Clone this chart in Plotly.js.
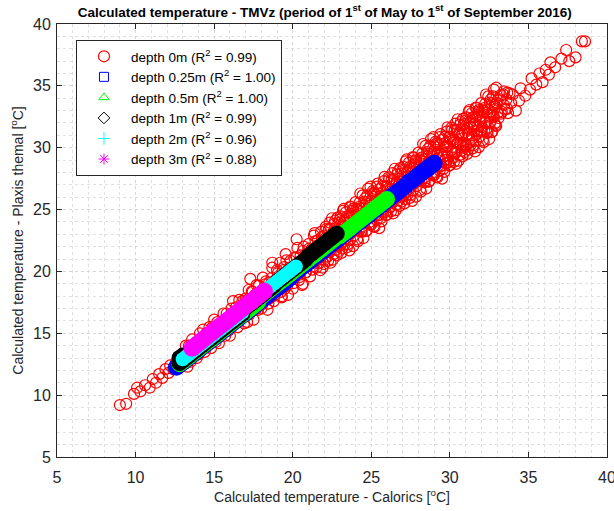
<!DOCTYPE html>
<html>
<head>
<meta charset="utf-8">
<script src="https://cdn.plot.ly/plotly-3.0.1.min.js"></script>
<style>html,body{margin:0;padding:0;background:#fff;}#chart{width:614px;height:511px;}</style>
</head>
<body>
<div id="chart"></div>
<script>
// ---- data ----
const seriesNames = [
  "depth 0m (R<sup>2</sup> = 0.99)",
  "depth 0.25m (R<sup>2</sup> = 1.00)",
  "depth 0.5m (R<sup>2</sup> = 1.00)",
  "depth 1m (R<sup>2</sup> = 0.99)",
  "depth 2m (R<sup>2</sup> = 0.96)",
  "depth 3m (R<sup>2</sup> = 0.88)"
];

const depth0X = [
  9.0,9.4,9.9,10.1,10.3,10.6,10.9,11.1,11.3,11.5,11.7,11.9,12.1,12.2,12.4,12.6,12.8,13.3,
  13.0,13.1,13.2,13.3,13.4,13.5,13.6,13.7,13.8,13.9,
  14.0,14.1,14.2,14.3,14.4,14.5,14.6,14.7,14.8,14.9,
  15.0,15.1,15.2,15.3,15.4,15.5,15.6,15.7,15.8,15.9,
  16.0,16.1,16.2,16.3,16.4,16.5,16.6,16.7,16.8,16.9,
  17.0,17.1,17.2,17.3,17.4,17.5,17.6,17.7,17.8,17.9,17.3,17.55,
  18.0,18.1,18.2,18.3,18.4,18.5,18.6,18.7,18.8,18.9,18.7,18.45,
  19.0,19.1,19.2,19.3,19.4,19.5,19.6,19.7,19.8,19.9,19.3,19.55,
  20.0,20.1,20.2,20.3,20.4,20.5,20.6,20.7,20.8,20.9,20.25,20.65,
  21.0,21.1,21.2,21.3,21.4,21.5,21.6,21.7,21.8,21.9,21.35,21.75,
  22.0,22.0,22.1,22.1,22.2,22.2,22.3,22.3,22.4,22.4,22.5,22.5,22.6,22.6,22.7,22.7,22.8,22.8,22.9,22.9,
  23.0,23.0,23.1,23.1,23.2,23.2,23.3,23.3,23.4,23.4,23.5,23.5,23.6,23.6,23.7,23.7,23.8,23.8,23.9,23.9,
  24.0,24.0,24.1,24.1,24.2,24.2,24.3,24.3,24.4,24.4,24.5,24.5,24.6,24.6,24.7,24.7,24.8,24.8,24.9,24.9,
  25.0,25.0,25.1,25.1,25.2,25.2,25.3,25.3,25.4,25.4,25.5,25.5,25.6,25.6,25.7,25.7,25.8,25.8,25.9,25.9,
  26.0,26.0,26.1,26.1,26.2,26.2,26.3,26.3,26.4,26.4,26.5,26.5,26.6,26.6,26.7,26.7,26.8,26.8,26.9,26.9,
  27.0,27.0,27.1,27.1,27.2,27.2,27.3,27.3,27.4,27.4,27.5,27.5,27.6,27.6,27.7,27.7,27.8,27.8,27.9,27.9,
  28.0,28.0,28.1,28.1,28.2,28.2,28.3,28.3,28.4,28.4,28.5,28.5,28.6,28.6,28.7,28.7,28.8,28.8,28.9,28.9,
  29.0,29.0,29.1,29.1,29.2,29.2,29.3,29.3,29.4,29.4,29.5,29.5,29.6,29.6,29.7,29.7,29.8,29.8,29.9,29.9,
  30.0,30.0,30.1,30.1,30.2,30.2,30.3,30.3,30.4,30.4,30.5,30.5,30.6,30.6,30.7,30.7,30.8,30.8,30.9,30.9,
  31.0,31.0,31.1,31.1,31.2,31.2,31.3,31.3,31.4,31.4,31.5,31.5,31.6,31.6,31.7,31.7,31.8,31.8,31.9,31.9,
  32.0,32.0,32.1,32.1,32.2,32.2,32.3,32.3,32.4,32.4,32.5,32.5,32.6,32.6,32.7,32.7,32.8,32.8,32.9,32.9,
  33.0,33.1,33.2,33.3,33.4,33.5,33.6,33.7,33.8,33.9,
  34.0,34.2,34.5,34.4,34.8,35.1,35.2,35.5,35.7,35.9,36.1,36.3,36.4,36.7,37.1,37.4,37.6,38.0,38.4,38.6
];
const depth0Y = [
  9.2,9.3,10.1,10.6,10.3,10.8,10.6,11.3,11.0,11.7,11.4,12.1,11.8,12.4,12.1,12.7,12.3,12.3,
  13.3,12.5,14.0,13.0,14.0,12.7,14.5,13.2,14.2,13.0,
  13.3,15.0,13.8,15.3,13.5,15.0,14.0,15.5,13.8,15.5,
  16.1,14.3,15.9,14.2,15.8,15.0,16.6,14.8,16.6,15.2,
  14.8,17.0,17.6,15.8,17.1,15.5,17.7,16.3,17.6,15.8,
  17.8,15.9,18.5,16.9,18.4,16.1,18.1,18.9,16.9,18.2,19.4,17.0,
  17.0,19.5,17.9,19.2,16.9,19.1,17.9,20.3,17.6,19.3,20.7,17.4,
  20.1,18.5,20.7,18.0,20.1,18.6,20.9,18.1,20.3,19.5,17.9,21.4,
  18.6,21.1,19.7,21.9,19.3,21.3,18.9,22.0,19.9,21.4,22.6,19.0,
  22.2,19.6,21.8,20.4,23.1,20.3,22.5,21.1,23.2,20.3,22.9,20.1,
  20.6,22.9,21.8,23.6,21.2,22.6,23.4,21.6,22.5,20.7,24.3,22.3,21.4,23.2,24.1,22.2,23.1,21.3,23.9,22.0,
  24.2,22.2,23.6,21.5,24.9,23.1,22.2,24.1,23.0,24.8,22.2,23.7,24.5,21.7,25.2,23.1,23.8,24.9,22.9,24.5,
  23.4,25.6,22.6,24.4,25.2,23.3,26.3,24.1,23.2,25.1,24.6,22.7,25.9,24.1,25.5,23.3,26.7,24.5,25.3,23.8,
  25.7,23.8,26.5,24.7,23.6,26.3,25.2,26.2,24.5,27.1,23.5,25.8,26.1,24.3,26.9,25.0,25.6,27.3,24.8,26.1,
  24.6,26.9,25.8,27.6,25.2,26.6,27.4,25.6,26.5,24.7,28.3,26.3,25.4,27.2,28.1,26.2,27.1,25.3,27.9,26.0,
  28.2,26.2,27.6,25.5,28.9,27.1,26.2,28.1,27.0,28.8,26.2,27.7,28.5,25.7,29.2,27.1,27.8,28.9,26.9,28.5,
  27.4,29.6,26.6,28.4,29.2,27.3,30.3,28.1,27.2,29.1,28.6,26.7,29.9,28.1,29.5,27.3,30.7,28.5,29.3,27.8,
  29.7,27.8,30.5,28.7,27.6,30.3,29.2,30.2,28.5,31.1,27.5,29.8,30.1,28.3,30.9,29.0,29.6,31.3,28.8,30.1,
  28.6,30.9,29.8,31.6,29.2,30.6,31.4,29.6,30.5,28.7,32.3,30.3,29.4,31.2,32.1,30.2,31.1,29.3,31.9,30.0,
  32.2,30.2,31.6,29.5,32.9,31.1,30.2,32.1,31.0,32.8,30.2,31.7,32.5,29.7,33.2,31.1,31.8,32.9,30.9,32.5,
  31.4,33.6,30.6,32.4,33.2,31.3,34.3,32.1,31.2,33.1,32.6,30.7,33.9,32.1,33.5,31.3,34.7,32.5,33.3,31.8,
  33.6,32.4,33.9,32.9,34.3,33.1,33.9,32.8,34.4,33.6,
  34.3,33.0,34.8,33.8,34.2,34.7,35.6,35.1,36.0,35.3,36.3,35.9,36.9,36.5,37.2,37.9,37.0,37.3,38.6,38.6
];
// further depth-0m readings in the densest part of the cloud
const depth0XMore = [
  17.05,17.25,17.45,17.65,17.85,18.05,18.25,18.45,18.65,18.85,19.05,19.25,19.45,19.65,19.85,
  20.05,20.25,20.45,20.65,20.85,21.05,21.25,21.45,21.65,21.85,
  22.05,22.05,22.15,22.15,22.25,22.25,22.35,22.35,22.45,22.45,22.55,22.55,22.65,22.65,22.75,22.75,22.85,22.85,22.95,22.95,
  23.05,23.05,23.15,23.15,23.25,23.25,23.35,23.35,23.45,23.45,23.55,23.55,23.65,23.65,23.75,23.75,23.85,23.85,23.95,23.95,
  24.05,24.05,24.15,24.15,24.25,24.25,24.35,24.35,24.45,24.45,24.55,24.55,24.65,24.65,24.75,24.75,24.85,24.85,24.95,24.95,
  25.05,25.05,25.15,25.15,25.25,25.25,25.35,25.35,25.45,25.45,25.55,25.55,25.65,25.65,25.75,25.75,25.85,25.85,25.95,25.95,
  26.05,26.05,26.15,26.15,26.25,26.25,26.35,26.35,26.45,26.45,26.55,26.55,26.65,26.65,26.75,26.75,26.85,26.85,26.95,26.95,
  27.05,27.05,27.15,27.15,27.25,27.25,27.35,27.35,27.45,27.45,27.55,27.55,27.65,27.65,27.75,27.75,27.85,27.85,27.95,27.95,
  28.05,28.05,28.15,28.15,28.25,28.25,28.35,28.35,28.45,28.45,28.55,28.55,28.65,28.65,28.75,28.75,28.85,28.85,28.95,28.95,
  29.05,29.05,29.15,29.15,29.25,29.25,29.35,29.35,29.45,29.45,29.55,29.55,29.65,29.65,29.75,29.75,29.85,29.85,29.95,29.95,
  30.05,30.05,30.15,30.15,30.25,30.25,30.35,30.35,30.45,30.45,30.55,30.55,30.65,30.65,30.75,30.75,30.85,30.85,30.95,30.95,
  31.05,31.05,31.15,31.15,31.25,31.25,31.35,31.35,31.45,31.45,31.55,31.55,31.65,31.65,31.75,31.75,31.85,31.85,31.95,31.95,
  32.05,32.05,32.15,32.15,32.25,32.25,32.35,32.35,32.45,32.45,32.55,32.55,32.65,32.65,32.75,32.75,32.85,32.85,32.95,32.95,
  33.05,33.05,33.25,33.25,33.45,33.45,33.65,33.65
];
const depth0YMore = [
  17.65,16.55,18.35,16.95,18.85,17.35,18.95,17.75,19.45,18.05,19.85,18.35,20.35,18.85,20.85,
  19.05,21.15,19.55,21.65,19.95,21.85,20.15,22.45,20.65,22.75,
  22.65,20.95,21.65,23.45,22.45,20.85,23.95,21.55,22.35,23.45,20.95,23.05,23.85,22.35,21.75,22.95,24.35,22.25,21.65,23.25,
  22.15,24.45,23.15,21.85,23.95,25.05,22.65,23.65,21.95,24.45,23.95,23.35,22.55,25.25,23.35,24.65,22.05,25.05,24.05,23.35,
  25.05,23.65,22.45,24.95,24.05,25.55,24.85,23.25,26.15,23.65,24.05,25.65,24.85,23.25,26.15,24.65,23.95,25.45,23.75,26.85,
  24.85,25.85,26.35,23.65,25.65,24.55,24.15,26.85,25.45,24.55,26.65,25.25,24.05,26.35,26.05,24.75,27.65,25.35,26.85,24.55,
  26.65,24.95,25.65,27.45,26.45,24.85,27.95,25.55,26.35,27.45,24.95,27.05,27.85,26.35,25.75,26.95,28.35,26.25,25.65,27.25,
  26.15,28.45,27.15,25.85,27.95,29.05,26.65,27.65,25.95,28.45,27.95,27.35,26.55,29.25,27.35,28.65,26.05,29.05,28.05,27.35,
  29.05,27.65,26.45,28.95,28.05,29.55,28.85,27.25,30.15,27.65,28.05,29.65,28.85,27.25,30.15,28.65,27.95,29.45,27.75,30.85,
  28.85,29.85,30.35,27.65,29.65,28.55,28.15,30.85,29.45,28.55,30.65,29.25,28.05,30.35,30.05,28.75,31.65,29.35,30.85,28.55,
  30.65,28.95,29.65,31.45,30.45,28.85,31.95,29.55,30.35,31.45,28.95,31.05,31.85,30.35,29.75,30.95,32.35,30.25,29.65,31.25,
  30.15,32.45,31.15,29.85,31.95,33.05,30.65,31.65,29.95,32.45,31.95,31.35,30.55,33.25,31.35,32.65,30.05,33.05,32.05,31.35,
  33.05,31.65,30.45,32.95,32.05,33.55,32.85,31.25,34.15,31.65,32.05,33.65,32.85,31.25,34.15,32.65,31.95,33.45,31.75,34.85,
  32.85,33.85,34.25,32.75,33.45,34.55,33.15,34.45
];

const depth025X = [12.6,12.8,13.0,13.2,13.4,13.6,13.8,14.0,14.2,14.4,14.6,14.8,15.0,15.2,15.4,15.6,15.8,16.0,16.2,16.4,16.6,16.8,17.0,17.2,17.4,17.6,17.8,18.0,18.2,18.4,18.6,18.8,19.0,19.2,19.4,19.6,19.8,20.0,20.2,20.4,20.6,20.8,21.0,21.2,21.4,21.6,21.8,22.0,22.2,22.4,22.6,22.8,23.0,23.2,23.4,23.6,23.8,24.0,24.2,24.4,24.6,24.8,25.0,25.2,25.4,25.6,25.8,26.0,26.2,26.4,26.6,26.8,27.0,27.2,27.4,27.6,27.8,28.0,28.2,28.4,28.6,28.8,29.0];
const depth025Y = [12.25,12.45,12.65,12.85,13.05,13.25,13.45,13.65,13.85,14.05,14.25,14.45,14.65,14.85,15.05,15.25,15.45,15.65,15.85,16.05,16.25,16.45,16.65,16.85,17.05,17.25,17.45,17.65,17.85,18.05,18.25,18.45,18.65,18.85,19.05,19.25,19.45,19.75,19.95,20.15,20.35,20.55,20.75,20.95,21.2,21.35,21.55,21.75,21.95,22.15,22.35,22.55,22.75,22.95,23.15,23.35,23.55,23.75,23.95,24.15,24.35,24.5,24.75,24.95,25.15,25.35,25.55,25.75,25.95,26.15,26.35,26.55,26.75,26.95,27.2,27.35,27.55,27.75,27.95,28.15,28.35,28.55,28.75];

const depth05X = [12.8,13.0,13.2,13.4,13.6,13.8,14.0,14.2,14.4,14.6,14.8,15.0,15.2,15.4,15.6,15.8,16.0,16.2,16.4,16.6,16.8,17.0,17.2,17.4,17.6,17.8,18.0,18.2,18.4,18.6,18.8,19.0,19.2,19.4,19.6,19.8,20.0,20.2,20.4,20.6,20.8,21.0,21.2,21.4,21.6,21.8,22.0,22.2,22.4,22.6,22.8,23.0,23.2,23.4,23.6,23.8,24.0,24.2,24.4,24.6,24.8,25.0,25.2,25.4,25.6,25.8,26.0];
const depth05Y = [12.5,12.7,12.9,13.1,13.3,13.5,13.7,13.9,14.1,14.3,14.5,14.7,14.9,15.1,15.3,15.5,15.7,15.9,16.1,16.3,16.5,16.7,16.9,17.1,17.3,17.5,17.95,18.15,18.35,18.55,18.75,18.95,19.15,19.35,19.55,19.75,19.95,20.15,20.35,20.55,20.75,20.95,21.15,21.35,21.55,21.75,21.95,22.15,22.35,22.55,22.75,22.85,23.05,23.25,23.45,23.65,23.85,24.05,24.25,24.45,24.65,24.85,25.05,25.25,25.45,25.65,25.85];

const depth1X = [12.8,13.0,12.8,13.0,13.2,13.4,13.6,13.8,14.0,14.2,14.4,14.6,14.8,15.0,15.2,15.4,15.6,15.8,16.0,16.2,16.4,16.6,16.8,17.0,17.2,17.4,17.6,17.8,18.0,18.2,18.4,18.6,18.8,19.0,19.2,19.4,19.6,19.8,20.0,20.2,20.4,20.6,20.8,21.0,21.2,21.4,21.6,21.8,22.0,22.2,22.4,22.6,22.8];
const depth1Y = [13.0,13.2,12.6,12.8,13.0,13.2,13.4,13.6,13.8,14.0,14.2,14.4,14.6,14.8,15.0,15.2,15.4,15.6,15.8,16.0,16.2,16.4,16.6,17.05,17.25,17.45,17.65,17.85,18.05,18.25,18.45,18.65,18.85,19.15,19.35,19.55,19.75,19.95,20.15,20.35,20.55,20.75,20.95,21.25,21.45,21.65,21.85,22.05,22.25,22.45,22.65,22.85,23.05];

const depth2X = [13.0,13.2,13.4,13.6,13.8,14.0,14.2,14.4,14.6,14.8,15.0,15.2,15.4,15.6,15.8,16.0,16.2,16.4,16.6,16.8,17.0,17.2,17.4,17.6,17.8,18.0,18.2,18.4,18.6,18.8,19.0,19.2,19.4,19.6,19.8,20.0,20.2];
const depth2Y = [12.9,13.1,13.3,13.5,13.7,13.9,14.1,14.3,14.5,14.7,14.9,15.1,15.3,15.5,15.7,15.9,16.1,16.3,16.5,16.7,17.2,17.4,17.6,17.8,18.0,18.2,18.4,18.6,18.8,19.0,19.2,19.4,19.6,19.8,20.0,20.2,20.4];

const depth3X = [13.6,13.8,14.0,14.2,14.4,14.6,14.8,15.0,15.2,15.4,15.6,15.8,16.0,16.2,16.4,16.6,16.8,17.0,17.2,17.4,17.6,17.8,18.0,18.2];
const depth3Y = [13.8,14.0,14.2,14.4,14.6,14.8,15.0,15.2,15.4,15.6,15.8,16.0,16.2,16.4,16.6,16.8,17.0,17.2,17.4,17.6,17.8,18.0,18.2,18.4];

const axisTicks = [5,10,15,20,25,30,35,40];
const titleText = "<b>Calculated temperature - TMVz (period of 1<sup>st</sup> of May to 1<sup>st</sup> of September 2016)</b>";
const xTitle = "Calculated temperature - Calorics [<sup>o</sup>C]";
const yTitle = "Calculated temperature - Plaxis themal [<sup>o</sup>C]";

// ---- styles ----
const FONT = 'Arial, Liberation Sans, sans-serif';
const colors = ["#ff0000","#0000ff","#00ff00","#000000","#00ffff","#ff00ff"];
const legendSymbols = ["circle-open","square-open","triangle-up-open","diamond-open","cross-thin-open","asterisk-open"];
const bandSizes = [11,17,16,16,14,17];
const bandData = [
  [depth0X.concat(depth0XMore), depth0Y.concat(depth0YMore)],
  [depth025X, depth025Y],[depth05X, depth05Y],
  [depth1X, depth1Y],[depth2X, depth2Y],[depth3X, depth3Y]
];

const traces = [];
traces.push({
  type:'scatter', mode:'markers', x:bandData[0][0], y:bandData[0][1], name:seriesNames[0],
  legendgroup:'g0', hoverinfo:'skip',
  marker:{symbol:'circle-open', size:bandSizes[0], color:colors[0], line:{width:1.2, color:colors[0]}}
});
for (let i=1;i<6;i++){
  traces.push({
    type:'scatter', mode:'markers', x:bandData[i][0], y:bandData[i][1], showlegend:false,
    hoverinfo:'skip',
    marker:{symbol:'circle', size:bandSizes[i], color:colors[i], line:{width:0}}
  });
}
for (let i=1;i<6;i++){
  traces.push({
    type:'scatter', mode:'markers', x:[null], y:[null], name:seriesNames[i],
    legendgroup:'g'+i,
    marker:{symbol:legendSymbols[i], size:9, color:colors[i], line:{width:1, color:colors[i]}}
  });
}

const axisCommon = {
  range:[5,40], tickvals:axisTicks, ticktext:axisTicks.map(String),
  ticks:'inside', ticklen:5, tickcolor:'#262626', tickwidth:1,
  showline:true, linecolor:'#262626', linewidth:1, mirror:'ticks',
  showgrid:true, gridcolor:'#d6d6d6', griddash:'dot', gridwidth:1,
  zeroline:false, fixedrange:true, ticklabeloverflow:'allow',
  tickfont:{family:FONT, size:16, color:'#262626'},
  minor:{dtick:1, showgrid:true, gridcolor:'#e0e0e0', griddash:'dot', gridwidth:1, ticks:''}
};

const layout = {
  width:614, height:511,
  margin:{l:57, r:7, t:24, b:54},
  paper_bgcolor:'#ffffff', plot_bgcolor:'#ffffff',
  showlegend:true,
  title:{text:titleText, x:0.529, xref:'container', y:0.976, yref:'container', yanchor:'middle',
         font:{family:FONT, size:13.5, color:'#000'}},
  xaxis:Object.assign({}, axisCommon, {
    ticklabelstandoff:6,
    title:{text:xTitle, standoff:6, font:{family:FONT, size:14, color:'#262626'}},
    automargin:false
  }),
  yaxis:Object.assign({}, axisCommon, {
    ticklabelstandoff:2,
    title:{text:yTitle, standoff:6, font:{family:FONT, size:14, color:'#262626'}},
    automargin:false
  }),
  legend:{
    x:0.0345, y:0.963, xanchor:'left', yanchor:'top',
    bgcolor:'#ffffff', bordercolor:'#262626', borderwidth:1,
    font:{family:FONT, size:13.5, color:'#000'},
    traceorder:'grouped', tracegroupgap:0, itemwidth:44
  }
};

Plotly.newPlot('chart', traces, layout, {staticPlot:true, displayModeBar:false});
</script>
</body>
</html>
